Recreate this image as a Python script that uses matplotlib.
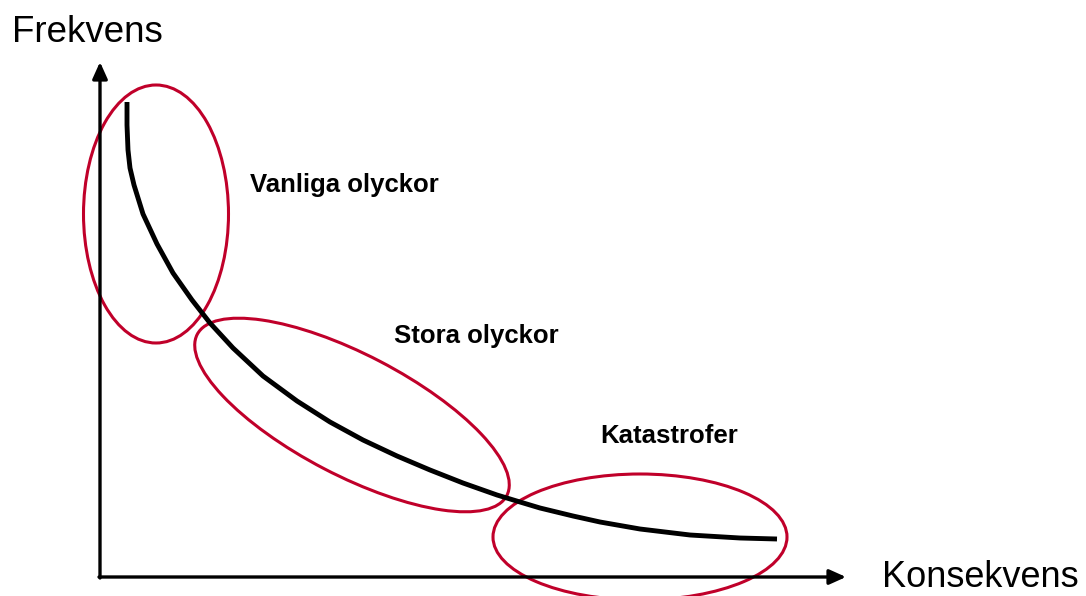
import matplotlib.pyplot as plt
from matplotlib.patches import Ellipse

plt.rcParams['font.family'] = ['Liberation Sans', 'DejaVu Sans']

# curve (pixel coordinates)
curve_x = [127, 127, 128, 130, 134, 143, 157, 173, 192, 210, 233, 263, 297, 330, 363,
           397, 430, 463, 497, 520, 540, 573, 600, 640, 690, 740, 777]
curve_y = [102, 125, 150, 168, 185, 214, 244, 273, 300, 323, 348, 376, 401, 422, 440,
           456, 470, 483, 495, 502, 508, 516, 522, 529, 535, 538, 539]

# groups: label, text baseline position, ellipse (cx, cy, w, h, angle)
labels = ['Vanliga olyckor', 'Stora olyckor', 'Katastrofer']
label_x = [250, 394, 600]
label_y = [192, 343, 443]
ell_cx = [156, 352, 640]
ell_cy = [214, 415, 537]
ell_w = [145, 349, 294]
ell_h = [258, 121, 126]
ell_ang = [0, 27.5, 0]

red = '#C0002A'

fig = plt.figure(figsize=(10.86, 5.96), dpi=100)
ax = fig.add_axes([0, 0, 1, 1])
ax.set_xlim(0, 1086)
ax.set_ylim(596, 0)
ax.axis('off')

# axes with arrows
ax.annotate('', xy=(100, 62), xytext=(100, 578),
            arrowprops=dict(arrowstyle='-|>,head_length=1.0,head_width=0.45', lw=2.4, color='black',
                            shrinkA=0, shrinkB=0))
ax.annotate('', xy=(846, 577), xytext=(99, 577),
            arrowprops=dict(arrowstyle='-|>,head_length=1.0,head_width=0.45', lw=2.4, color='black',
                            shrinkA=0, shrinkB=0))

ax.plot(curve_x, curve_y, color='black', lw=3.5, solid_capstyle='butt', solid_joinstyle='round')

for cx, cy, w, h, a in zip(ell_cx, ell_cy, ell_w, ell_h, ell_ang):
    ax.add_patch(Ellipse((cx, cy), w, h, angle=a, fill=False, ec=red, lw=2.2))

for t, x, y in zip(labels, label_x, label_y):
    ax.text(x, y, t, fontsize=18.5, fontweight='bold', ha='left', va='baseline')

ax.text(12, 42, 'Frekvens', fontsize=26.5, ha='left', va='baseline')
ax.text(882, 587, 'Konsekvens', fontsize=26, ha='left', va='baseline')

fig.savefig('out.png', dpi=100)
